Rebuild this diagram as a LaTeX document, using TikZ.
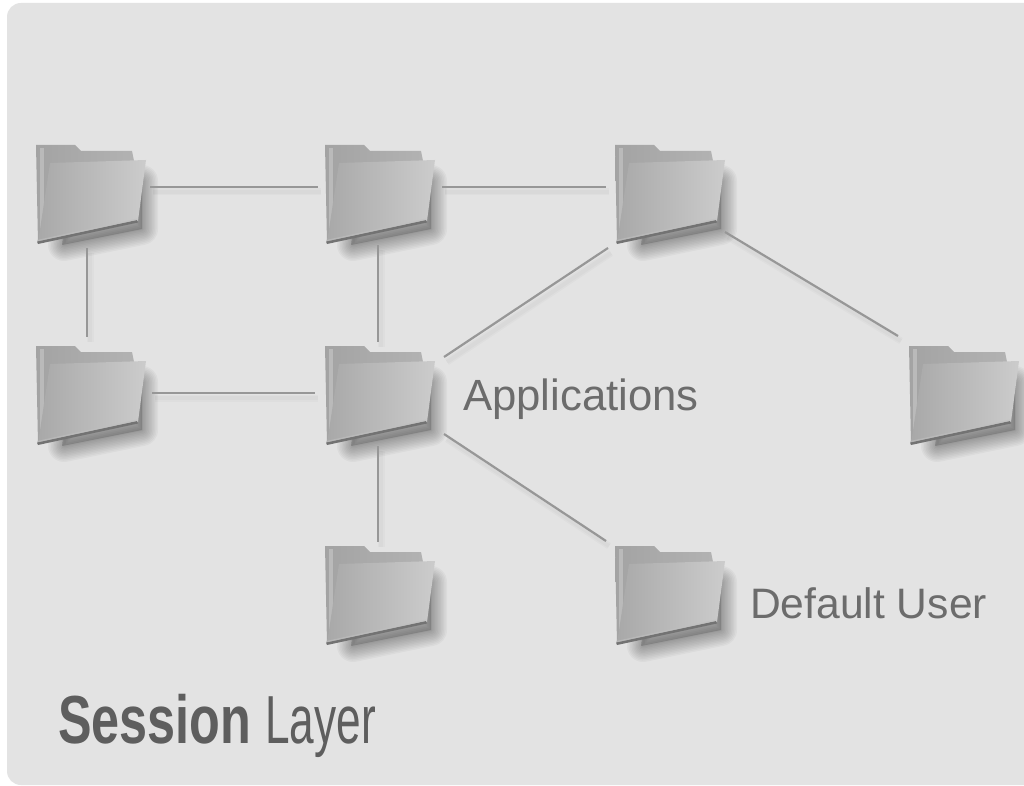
\documentclass[tikz,border=0pt]{standalone}
\usepackage{fontspec}
\setmainfont{Liberation Sans}
\usetikzlibrary{calc}
\definecolor{bgc}{HTML}{E3E3E3}
\definecolor{linec}{HTML}{979797}
\definecolor{textc}{HTML}{6C6C6C}
\definecolor{titlec}{HTML}{5E5E5E}
\tikzset{
  folderbox/.style={minimum width=110pt,minimum height=100pt,inner sep=0pt,outer sep=0pt},
  conn/.style={draw=linec,line width=2.2pt,
    preaction={draw=black,draw opacity=.02,line width=7pt,transform canvas={xshift=3pt,yshift=-5pt}},
    preaction={draw=black,draw opacity=.02,line width=4pt,transform canvas={xshift=3pt,yshift=-5pt}}},
  lab/.style={anchor=base west,inner sep=0pt,text=textc},
  titlelab/.style={anchor=base west,inner sep=0pt,text=titlec,font=\fontsize{68}{68}\selectfont},
  backfold/.style={left color=black!36,right color=black!30,draw=none},
  frontfold/.style={shade,shading angle=70,left color=black!34,right color=black!20,draw=none}
}
\newcommand{\folderart}{%
  % soft shadow
  \foreach \w in {32,29,26,23,20,17,14,11,8,5,2}{
    \draw[black,draw opacity=.032,line width=\w pt,line join=round]
      (40,40) -- (106,36) -- (106,84) -- (28,100) -- cycle;
  }
  \fill[black,opacity=.16] (34,38) -- (106,36) -- (106,84) -- (26,100) -- cycle;
  % back
  \shade[backfold] (0,0) -- (39,0) -- (45,6) -- (96,6) -- (98,16) -- (100,76) -- (2,98) -- cycle;
  \fill[black!27] (4,3) rectangle (8,92);
  % front
  \shade[frontfold] (14,18) -- (110,15) -- (102,76) -- (2,98) -- cycle;
  % front edge
  \fill[black!55] (1,96.5) -- (101,75) -- (102,77.5) -- (2,99) -- cycle;
  \fill[black!25,opacity=.6] (1,95) -- (101,73.5) -- (101,75) -- (1,96.5) -- cycle;
}
\begin{document}
\begin{tikzpicture}[x=1pt,y=-1pt]
\useasboundingbox (0,0) rectangle (1024,786);
\fill[white] (0,0) rectangle (1024,786);
\fill[bgc,rounded corners=14pt] (7,3) rectangle (1060,785);
\foreach \n/\x/\y in {fa/36/145,fb/325/145,fc/615/145,fd/36/346,fe/325/346,ff/909/346,fg/325/546,fh/615/546}{
  \begin{scope}[shift={(\x,\y)}]
    \folderart
    \node[folderbox] (\n) at (55,50) {};
  \end{scope}
}
\draw[conn] ([shift={(4,-8)}]fa.east) -- ([shift={(-7,-8)}]fb.west);
\draw[conn] ([shift={(7,-8)}]fb.east) -- ([shift={(-9,-8)}]fc.west);
\draw[conn] ([shift={(-4,3)}]fa.south) -- ([shift={(-4,-9)}]fd.north);
\draw[conn] ([shift={(-2,0)}]fb.south) -- ([shift={(-2,-4)}]fe.north);
\draw[conn] ([shift={(6,-3)}]fd.east) -- ([shift={(-10,-3)}]fe.west);
\draw[conn] ([shift={(9,11)}]fe.north east) -- ([shift={(-7,3)}]fc.south west);
\draw[conn] ([shift={(0,-13)}]fc.south east) -- ([shift={(-11,-10)}]ff.north west);
\draw[conn] ([shift={(-2,0)}]fe.south) -- ([shift={(-2,-4)}]fg.north);
\draw[conn] ([shift={(9,-12)}]fe.south east) -- ([shift={(-9,-5)}]fh.north west);
\node[lab,font=\fontsize{43.7}{44}\selectfont] (apps) at (463,410) {Applications};
\node[lab,font=\fontsize{42.6}{44}\selectfont] (defu) at (750,618) {Default User};
\node[titlelab] (sess) at (58,743) {\scalebox{.74}[1]{\bfseries Session}\hspace{14pt}\scalebox{.65}[1]{Layer}};
\end{tikzpicture}
\end{document}
